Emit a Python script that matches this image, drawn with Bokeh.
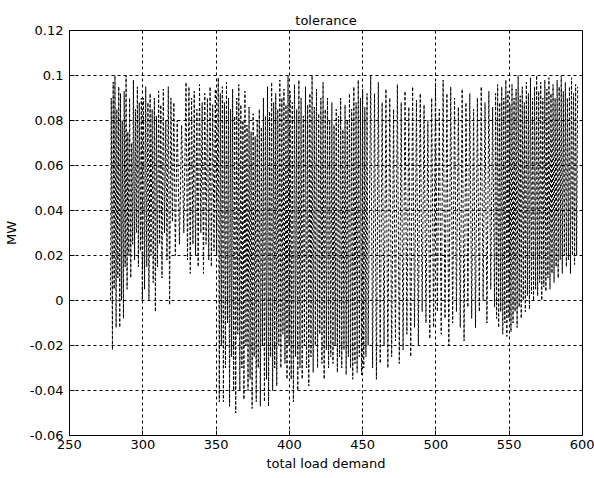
from bokeh.plotting import figure
from bokeh.models import FixedTicker, Range1d
from bokeh.embed import file_html
from bokeh.resources import INLINE

# ---- data (alternating troughs / peaks) ----
xa = [278, 278.5, 279.3, 279.8, 280.5, 281, 281.8, 282.3, 283, 283.6,
      284.3, 284.8, 285.5, 286, 286.8, 287.3, 288, 288.6, 289.3, 289.8,
      290.5, 291, 291.8, 292.4, 293.1, 293.6, 294.4, 295, 295.7, 296.3,
      297, 297.6, 298.4, 299, 299.7]
ya = [0.0, 0.09, -0.022, 0.097, 0.005, 0.1, -0.012, 0.085, 0.01, 0.095,
      -0.012, 0.092, 0.0, 0.08, -0.008, 0.093, 0.015, 0.1, 0.005, 0.075,
      0.02, 0.09, 0.01, 0.07, 0.025, 0.098, 0.018, 0.085, 0.03, 0.095,
      0.015, 0.088, 0.022, 0.09, 0.0]

xb = [300.5, 301.2, 302, 302.7, 303.5, 304.2, 305, 305.6, 306.4, 307.1,
      307.9, 308.6, 309.3, 310, 310.8, 311.5, 312.3, 313.1, 314, 314.8,
      315.7, 316.5, 317.4, 318.3, 319.2, 320.2, 321.2, 322.2]
yb = [0.09, 0.005, 0.095, 0.015, 0.088, 0.0, 0.092, 0.02, 0.085, 0.008,
      0.09, -0.005, 0.082, 0.015, 0.093, 0.025, 0.087, 0.01, 0.094, 0.03,
      0.08, 0.018, 0.095, -0.002, 0.09, 0.035, 0.088, 0.02]

xc = [323.5, 325, 326.5, 328, 329.5, 330.5, 331.5, 332.4, 333.3, 334.2,
      335.1, 336, 336.9, 337.8, 338.7, 339.6, 340.5, 341.4, 342.3, 343.2,
      344.1, 345, 345.9, 346.8, 347.7, 348.6, 349.5, 350.4]
yc = [0.08, 0.025, 0.078, 0.03, 0.097, 0.018, 0.095, 0.012, 0.09, 0.025,
      0.093, 0.02, 0.085, 0.015, 0.096, 0.03, 0.088, 0.012, 0.092, 0.025,
      0.09, 0.018, 0.095, 0.015, 0.087, 0.022, 0.094, 0.02]

xd = [351.5, 352.2, 352.9, 353.6, 354.3, 355, 355.7, 356.4, 357.1, 357.8,
      358.5, 359.2, 359.9, 360.6, 361.3, 362, 362.7, 363.4, 364.1, 364.8,
      365.5, 366.2, 366.9, 367.6, 368.3, 369, 369.7, 370.4, 371.1, 371.8,
      372.5, 373.2, 373.9, 374.6, 375.3, 376, 376.7, 377.4, 378.1, 378.8,
      379.5, 380.2, 380.9, 381.6, 382.3, 383, 383.7, 384.4, 385.1, 385.8,
      386.5, 387.2, 387.9, 388.6, 389.3, 390, 390.7, 391.4, 392.1, 392.8,
      393.5, 394.2, 394.9, 395.6, 396.3, 397, 397.7, 398.4, 399.1, 399.8]
yd = [0.099, -0.045, 0.092, -0.02, 0.095, -0.045, 0.088, -0.03, 0.097, -0.01,
      0.09, -0.047, 0.085, -0.025, 0.094, -0.04, 0.082, -0.05, 0.09, -0.015,
      0.096, -0.04, 0.087, -0.03, 0.08, -0.044, 0.093, -0.02, 0.078, -0.04,
      0.086, -0.035, 0.075, -0.048, 0.083, -0.025, 0.073, -0.045, 0.08, -0.03,
      0.085, -0.047, 0.077, -0.02, 0.09, -0.045, 0.082, -0.035, 0.095, -0.047,
      0.084, -0.025, 0.097, -0.04, 0.088, -0.03, 0.092, -0.038, 0.085, -0.02,
      0.098, -0.03, 0.09, -0.015, 0.094, -0.028, 0.087, -0.035, 0.1, -0.02]

xe = [400.5, 401.25, 402, 402.75, 403.5, 404.25, 405, 405.75, 406.5, 407.25,
      408, 408.75, 409.5, 410.25, 411, 411.75, 412.5, 413.25, 414, 414.75,
      415.5, 416.25, 417, 417.75, 418.5, 419.25, 420, 420.75, 421.5, 422.25,
      423, 423.75, 424.5, 425.25, 426, 426.75, 427.5, 428.25, 429, 429.75,
      430.5, 431.25, 432, 432.75, 433.5, 434.25, 435, 435.75, 436.5, 437.25,
      438, 438.75, 439.5, 440.25, 441, 441.75, 442.5, 443.25, 444, 444.75,
      445.5, 446.25, 447, 447.75, 448.5, 449.25, 450, 450.75, 451.5, 452.25,
      453, 453.75]
ye = [0.093, -0.035, 0.088, -0.045, 0.096, -0.025, 0.085, -0.04, 0.098, -0.03,
      0.09, -0.035, 0.082, -0.02, 0.095, -0.03, 0.087, -0.038, 0.092, -0.025,
      0.1, -0.032, 0.086, -0.02, 0.094, -0.03, 0.083, -0.015, 0.09, -0.028,
      0.097, -0.035, 0.085, -0.022, 0.09, -0.03, 0.08, -0.025, 0.088, -0.028,
      0.078, -0.02, 0.085, -0.032, 0.082, -0.025, 0.09, -0.03, 0.076, -0.022,
      0.087, -0.033, 0.08, -0.025, 0.092, -0.03, 0.085, -0.035, 0.095, -0.028,
      0.088, -0.032, 0.098, -0.025, 0.09, -0.033, 0.094, -0.03, 0.086, -0.025,
      0.092, -0.02]

xf = [455.5, 456.8, 458.1, 459.4, 460.7, 462, 463.3, 464.6, 465.9, 467.2,
      468.5, 469.8, 471.1, 472.4, 473.7, 475, 476.3, 477.6, 478.9, 480.2,
      481.5, 482.8, 484.1, 485.4, 486.7, 488, 489.3, 490.6, 491.9, 493.2,
      494.5, 495.8, 497.1, 498.4, 499.7, 501, 502.3, 503.6, 504.9, 506.2,
      507.5, 508.8, 510.1, 511.4, 512.7, 514, 515.3, 516.6, 517.9, 519.2,
      520.5, 521.8, 523.1, 524.4, 525.7, 527, 528.3, 529.6, 530.9, 532.2,
      533.5, 534.8, 536.1, 537.4, 538.7, 540]
yf = [0.1, -0.03, 0.092, -0.035, 0.097, -0.028, 0.088, -0.02, 0.094, -0.03,
      0.09, -0.025, 0.085, -0.018, 0.096, -0.028, 0.088, -0.022, 0.093, -0.015,
      0.086, -0.025, 0.095, -0.012, 0.089, -0.02, 0.092, -0.005, 0.087, -0.01,
      0.08, -0.017, 0.09, -0.012, 0.097, -0.005, 0.085, -0.015, 0.098, -0.008,
      0.092, -0.02, 0.095, -0.01, 0.09, -0.005, 0.086, -0.012, 0.094, -0.018,
      0.088, -0.003, 0.092, -0.008, 0.085, -0.012, 0.09, -0.005, 0.095, 0.0,
      0.088, -0.01, 0.093, 0.005, 0.086, -0.003]

xg = [540.7, 541.4, 542.1, 542.8, 543.5, 544.2, 544.9, 545.6, 546.3, 547,
      547.7, 548.4, 549.1, 549.8, 550.5, 551.2, 551.9, 552.6, 553.3, 554,
      554.7, 555.4, 556.1, 556.8, 557.5, 558.2, 558.9, 559.6, 560.3, 561,
      561.7, 562.4, 563.1, 563.8, 564.5, 565.2, 565.9, 566.6, 567.3, 568,
      568.7, 569.4, 570.1, 570.8, 571.5, 572.2, 572.9, 573.6, 574.3, 575,
      575.7, 576.4, 577.1, 577.8, 578.5, 579.2, 579.9, 580.6, 581.3, 582,
      582.7, 583.4, 584.1, 584.8, 585.5, 586.2, 586.9, 587.6, 588.3, 589,
      589.7, 590.4, 591.1, 591.8, 592.5, 593.2, 593.9, 594.6, 595.3, 596, 596.7]
yg = [0.092, -0.008, 0.096, -0.012, 0.088, -0.005, 0.095, -0.015, 0.09, -0.01,
      0.098, -0.016, 0.093, -0.008, 0.087, -0.014, 0.096, -0.01, 0.09, -0.005,
      0.094, -0.012, 0.1, -0.003, 0.091, -0.008, 0.095, 0.0, 0.088, -0.005,
      0.097, 0.002, 0.092, -0.004, 0.099, 0.003, 0.09, 0.0, 0.095, 0.005,
      0.1, 0.002, 0.093, 0.008, 0.097, 0.0, 0.09, 0.006, 0.098, 0.004,
      0.094, 0.01, 0.099, 0.005, 0.092, 0.012, 0.096, 0.008, 0.09, 0.015,
      0.098, 0.01, 0.095, 0.018, 0.1, 0.012, 0.093, 0.02, 0.097, 0.015,
      0.09, 0.018, 0.095, 0.012, 0.099, 0.02, 0.092, 0.016, 0.096, 0.02, 0.095]

x_ticks = [250, 300, 350, 400, 450, 500, 550, 600]
y_ticks = [-0.06, -0.04, -0.02, 0, 0.02, 0.04, 0.06, 0.08, 0.1, 0.12]
y_tick_labels = ["-0.06", "-0.04", "-0.02", "0", "0.02", "0.04", "0.06", "0.08", "0.1", "0.12"]

x_all, y_all = [], []
for xs, ys in [(xa, ya), (xb, yb), (xc, yc), (xd, yd), (xe, ye), (xf, yf), (xg, yg)]:
    n = min(len(xs), len(ys))
    x_all += xs[:n]
    y_all += ys[:n]

FONT = "DejaVu Sans"

p = figure(width=594, height=478, output_backend="svg", toolbar_location=None,
           x_range=Range1d(250, 600), y_range=Range1d(-0.06, 0.12),
           title="tolerance")
p.min_border_left = 69
p.min_border_right = 12
p.min_border_top = 30
p.min_border_bottom = 43
p.background_fill_color = "white"
p.border_fill_color = "white"
p.outline_line_color = "black"
p.outline_line_width = 1
p.outline_line_alpha = 1

p.title.align = "center"
p.title.text_font = FONT
p.title.text_font_size = "13px"
p.title.text_font_style = "normal"
p.title.text_color = "black"
p.title.standoff = 6

p.line(x_all, y_all, line_color="black", line_width=1, line_dash="3 2")

p.xaxis.ticker = FixedTicker(ticks=x_ticks)
p.yaxis.ticker = FixedTicker(ticks=y_ticks)
p.yaxis.major_label_overrides = {t: l for t, l in zip(y_ticks, y_tick_labels)}
p.xaxis.axis_label = "total load demand"
p.yaxis.axis_label = "MW"

for ax in (p.xaxis, p.yaxis):
    ax.axis_line_color = "black"
    ax.major_tick_line_color = "black"
    ax.major_tick_in = 5
    ax.major_tick_out = 0
    ax.minor_tick_line_color = None
    ax.major_label_text_font = FONT
    ax.major_label_text_font_size = "13px"
    ax.major_label_text_color = "black"
    ax.axis_label_text_font = FONT
    ax.axis_label_text_font_size = "13px"
    ax.axis_label_text_font_style = "normal"
    ax.axis_label_text_color = "black"

p.xaxis.major_label_standoff = 4
p.xaxis.axis_label_standoff = 4
p.yaxis.major_label_standoff = 6
p.yaxis.axis_label_standoff = 8

for g in (p.xgrid, p.ygrid):
    g.grid_line_color = "black"
    g.grid_line_dash = "3 3"
    g.grid_line_width = 1
    g.grid_line_alpha = 1

open("out.html", "w").write(file_html(p, INLINE))
